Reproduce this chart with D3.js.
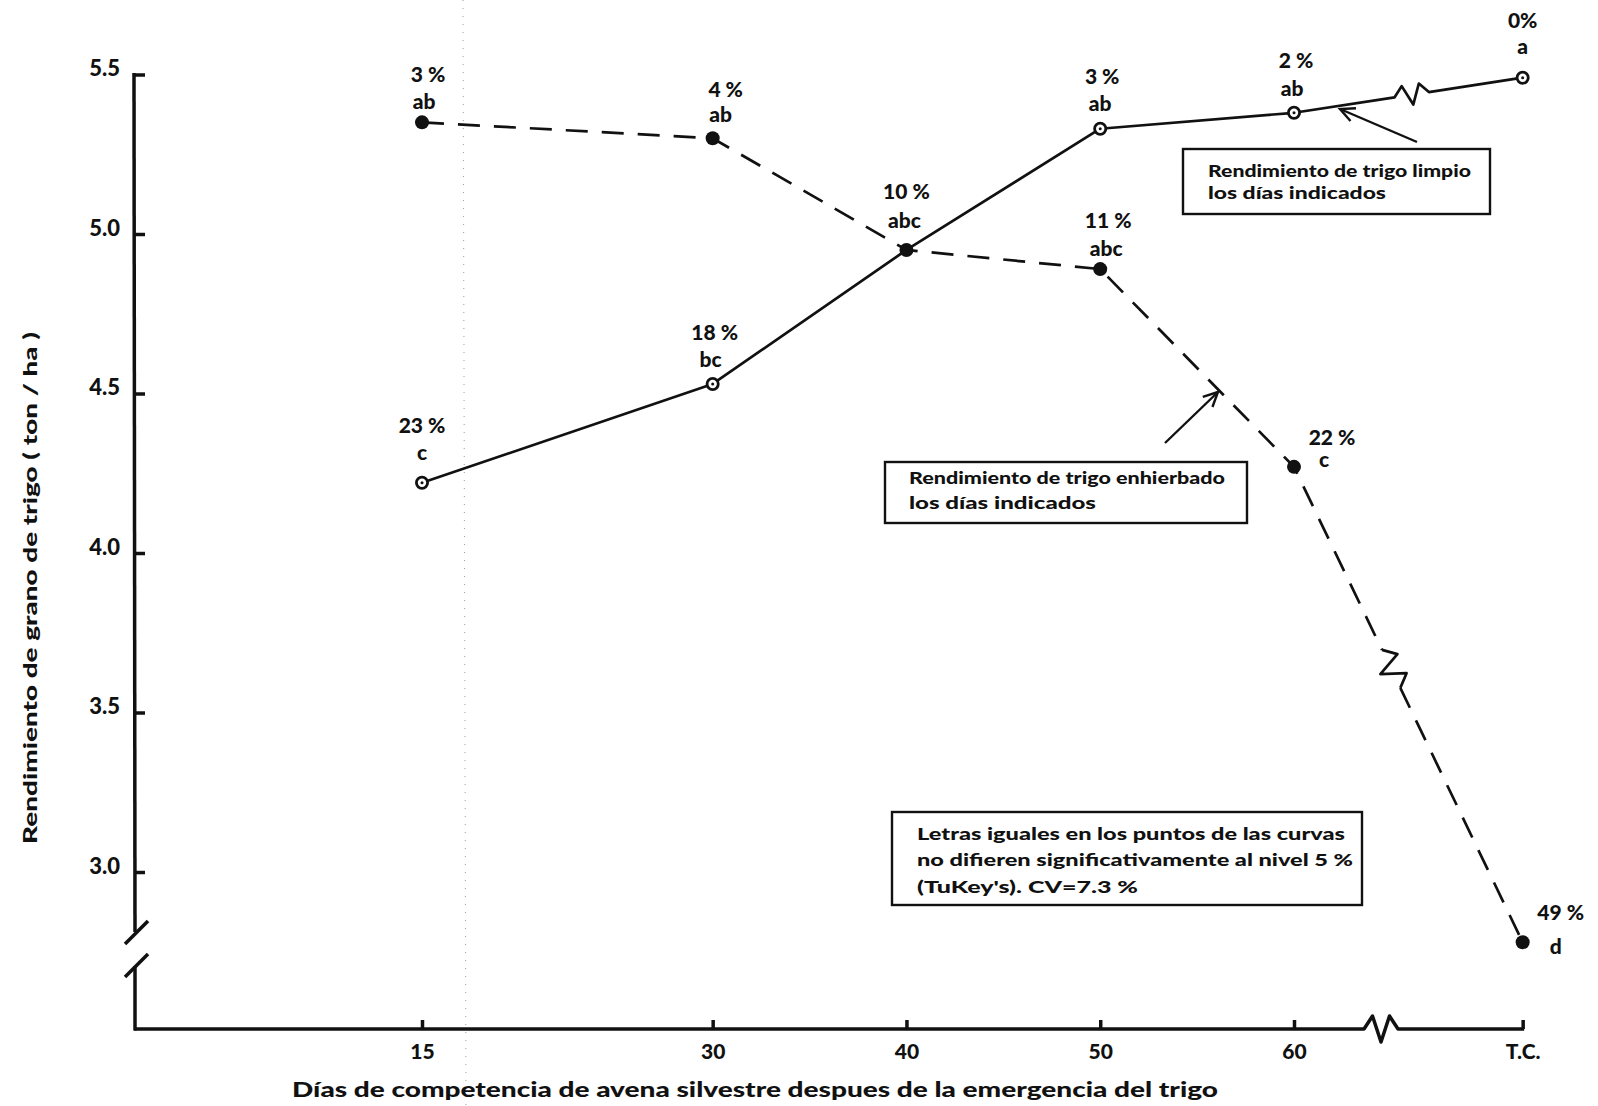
<!DOCTYPE html>
<html>
<head>
<meta charset="utf-8">
<script src="https://cdn.jsdelivr.net/npm/d3@7"></script>
<style>
  html, body { margin: 0; padding: 0; background: #fff; }
  svg { display: block; }
  text { font-family: "Lato", "DejaVu Sans", sans-serif; font-weight: 900; fill: #111; }
</style>
</head>
<body>
<div id="chart"></div>
<script>
// Días de competencia (eje X) y rendimientos de trigo (ton/ha)
const categories = ["15", "30", "40", "50", "60", "T.C."];
const days = [15, 30, 40, 50, 60];
const cleanYield = [4.22, 4.53, 4.95, 5.33, 5.38, 5.49];   // trigo limpio los días indicados
const weedyYield = [5.35, 5.30, 4.95, 4.89, 4.27, 2.78];   // trigo enhierbado los días indicados
const cleanLoss  = ["23 %", "18 %", "10 %", "3 %", "2 %", "0%"];
const cleanGroup = ["c", "bc", "abc", "ab", "ab", "a"];
const weedyLoss  = ["3 %", "4 %", "", "11 %", "22 %", "49 %"];
const weedyGroup = ["ab", "ab", "", "abc", "c", "d"];
const yTicks = [3.0, 3.5, 4.0, 4.5, 5.0, 5.5];

const W = 1598, H = 1106;
const TC_AT = 71.8;          // posición del testigo (T.C.) tras el corte del eje
const axisX = 134, axisY = 1029;

const svg = d3.select("#chart").append("svg")
  .attr("width", W).attr("height", H);

const x = d3.scaleLinear().domain([15, 60]).range([422, 1294]);
const y = d3.scaleLinear().domain([3.0, 5.5]).range([872, 74.5]);
const xAt = i => i < days.length ? x(days[i]) : x(TC_AT);

const ink = "#111";
const line = d3.line();

// pliegue punteado del papel
svg.append("path").attr("d", line([[463, 0], [466, H]]))
  .attr("stroke", "#9a9a9a").attr("stroke-width", 1).attr("stroke-dasharray", "1,7").attr("fill", "none");

// ---------- eje Y ----------
const yAxis = d3.axisLeft(y).tickValues(yTicks).tickSize(-11).tickPadding(14)
  .tickFormat(d3.format(".1f"));
const gy = svg.append("g").attr("transform", `translate(${axisX},0)`).call(yAxis);
gy.select(".domain").remove();
gy.selectAll(".tick line").attr("stroke", ink).attr("stroke-width", 3.5);
gy.selectAll(".tick text").attr("font-size", 22).attr("dy", "0.05em")
  .style("font-family", "Lato").style("font-weight", 900).attr("fill", ink);

// tramo superior del eje Y con el corte
const axisStroke = sel => sel.attr("stroke", ink).attr("stroke-width", 3.5).attr("fill", "none");
svg.append("path").attr("d", line([[axisX, y(5.5) - 1.5], [axisX + 1, 932]])).call(axisStroke);
svg.append("path").attr("d", line([[125, 944], [148, 921]])).call(axisStroke);
svg.append("path").attr("d", line([[125, 977], [148, 954]])).call(axisStroke);
svg.append("path").attr("d", line([[axisX + 1, 966], [axisX + 1, axisY + 1.5]])).call(axisStroke);

// ---------- eje X ----------
const xAxis = d3.axisBottom(x).tickValues(days.concat([TC_AT])).tickSize(-9).tickPadding(15)
  .tickFormat((d, i) => categories[i]);
const gx = svg.append("g").attr("transform", `translate(0,${axisY})`).call(xAxis);
gx.select(".domain").remove();
gx.selectAll(".tick line").attr("stroke", ink).attr("stroke-width", 3.5);
gx.selectAll(".tick text").attr("font-size", 21)
  .style("font-family", "Lato").style("font-weight", 900).attr("fill", ink);

// zigzag helper: inserts a break symbol between fractions t0..t1 of segment a→b
function zigzag(a, b, t0, t1, amp) {
  const dx = b[0] - a[0], dy = b[1] - a[1];
  const len = Math.hypot(dx, dy);
  const nx = dy / len, ny = -dx / len;   // normal pointing "up" for a left→right segment
  const P = t => [a[0] + dx * t, a[1] + dy * t];
  const pts = [P(t0)];
  [1, -1, 1].forEach((o, k) => {
    const p = P(t0 + (t1 - t0) * (k + 1) / 4);
    pts.push([p[0] + nx * amp * o, p[1] + ny * amp * o]);
  });
  pts.push(P(t1));
  return pts;
}

// línea base del eje X con corte
const xa = [axisX, axisY], xb = [x(TC_AT) + 1.5, axisY];
const span = xb[0] - axisX;
const xz = zigzag(xa, xb, (1364 - axisX) / span, (1398 - axisX) / span, 13);
svg.append("path").attr("d", line([xa].concat(xz).concat([xb]))).call(axisStroke)
  .attr("stroke-linejoin", "round");

// ---------- series ----------
const cleanPts = cleanYield.map((v, i) => [xAt(i), y(v)]);
const weedyPts = weedyYield.map((v, i) => [xAt(i), y(v)]);

// trigo limpio: línea continua con corte antes de T.C.
{
  const a = cleanPts[4], b = cleanPts[5];
  const z = zigzag(a, b, 0.44, 0.59, 10);
  svg.append("path").attr("d", line(cleanPts.slice(0, 5).concat(z).concat([b])))
    .attr("stroke", ink).attr("stroke-width", 2.7).attr("fill", "none").attr("stroke-linejoin", "round");
}

// trigo enhierbado: línea discontinua con corte antes de T.C.
{
  const dash = "22,14";
  const a = weedyPts[4], b = weedyPts[5];
  const z = zigzag(a, b, 0.385, 0.465, 12);
  svg.append("path").attr("d", line(weedyPts.slice(0, 5).concat([z[0]])))
    .attr("stroke", ink).attr("stroke-width", 2.7).attr("fill", "none").attr("stroke-dasharray", dash);
  svg.append("path").attr("d", line(z))
    .attr("stroke", ink).attr("stroke-width", 2.7).attr("fill", "none").attr("stroke-linejoin", "round");
  svg.append("path").attr("d", line([z[z.length - 1], b]))
    .attr("stroke", ink).attr("stroke-width", 2.7).attr("fill", "none").attr("stroke-dasharray", dash);
}

// marcadores
svg.append("g").selectAll("circle").data(weedyPts).join("circle")
  .attr("cx", d => d[0]).attr("cy", d => d[1]).attr("r", 7).attr("fill", ink);
const openG = svg.append("g");
cleanPts.forEach((d, i) => {
  if (i === 2) return; // punto compartido (40 días) va relleno
  openG.append("circle").attr("cx", d[0]).attr("cy", d[1]).attr("r", 5.6)
    .attr("fill", "#fff").attr("stroke", ink).attr("stroke-width", 2.8);
  openG.append("circle").attr("cx", d[0]).attr("cy", d[1]).attr("r", 1.5).attr("fill", ink);
});

// etiquetas de pérdida (%) y letras de Tukey
const lab = svg.append("g").attr("font-size", 21).attr("text-anchor", "middle");
function pointLabel(p, pct, grp, dx1, dy1, dx2, dy2) {
  if (pct) lab.append("text").attr("x", p[0] + dx1).attr("y", p[1] + dy1).attr("dy", "0.35em").text(pct);
  if (grp) lab.append("text").attr("x", p[0] + dx2).attr("y", p[1] + dy2).attr("dy", "0.35em").text(grp);
}
// trigo limpio
pointLabel(cleanPts[0], cleanLoss[0], cleanGroup[0], 0, -57, 0, -30);
pointLabel(cleanPts[1], cleanLoss[1], cleanGroup[1], 2, -51, -2, -24);
pointLabel(cleanPts[2], cleanLoss[2], cleanGroup[2], 0, -58, -2, -29);
pointLabel(cleanPts[3], cleanLoss[3], cleanGroup[3], 2, -52, 0, -25);
pointLabel(cleanPts[4], cleanLoss[4], cleanGroup[4], 2, -52, -2, -24);
pointLabel(cleanPts[5], cleanLoss[5], cleanGroup[5], 0, -57, 0, -31);
// trigo enhierbado
pointLabel(weedyPts[0], weedyLoss[0], weedyGroup[0], 6, -48, 2, -21);
pointLabel(weedyPts[1], weedyLoss[1], weedyGroup[1], 13, -49, 8, -24);
pointLabel(weedyPts[3], weedyLoss[3], weedyGroup[3], 8, -48, 6, -20);
pointLabel(weedyPts[4], weedyLoss[4], weedyGroup[4], 38, -29, 30, -7);
pointLabel(weedyPts[5], weedyLoss[5], weedyGroup[5], 38, -30, 33, 4);

// ---------- títulos de ejes ----------
svg.append("text").attr("x", 755).attr("y", 1090).attr("dy", "0.35em")
  .attr("text-anchor", "middle").attr("font-size", 20)
  .attr("textLength", 926).attr("lengthAdjust", "spacingAndGlyphs")
  .text("Días de competencia de avena silvestre despues de la emergencia del trigo");
svg.append("text").attr("transform", "translate(30,588) rotate(-90)").attr("dy", "0.35em")
  .attr("text-anchor", "middle").attr("font-size", 19)
  .attr("textLength", 512).attr("lengthAdjust", "spacingAndGlyphs")
  .text("Rendimiento de grano de trigo ( ton / ha )");

// ---------- recuadros ----------
function box(x0, y0, x1, y1, lines, tx, ty, lh, fs) {
  svg.append("rect").attr("x", x0).attr("y", y0).attr("width", x1 - x0).attr("height", y1 - y0)
    .attr("fill", "none").attr("stroke", ink).attr("stroke-width", 2.4);
  lines.forEach((l, i) => {
    svg.append("text").attr("x", tx).attr("y", ty + i * lh).attr("dy", "0.35em")
      .attr("font-size", fs).attr("textLength", l[1]).attr("lengthAdjust", "spacingAndGlyphs").text(l[0]);
  });
}
box(1183, 149, 1490, 214, [["Rendimiento de trigo limpio", 263], ["los días indicados", 178]], 1208, 171, 22, 16);
box(885, 462, 1247, 523, [["Rendimiento de trigo enhierbado", 316], ["los días indicados", 187]], 909, 478, 25, 16);
box(892, 812, 1362, 905, [["Letras iguales en los puntos de las curvas", 428],
                          ["no difieren significativamente al nivel  5 %", 436],
                          ["(TuKey's).  CV=7.3 %", 221]], 917, 834, 26.5, 16);

// flechas de los recuadros
function arrow(from, to) {
  svg.append("path").attr("d", line([from, to])).attr("stroke", ink).attr("stroke-width", 2.4).attr("fill", "none");
  const ang = Math.atan2(from[1] - to[1], from[0] - to[0]);
  const L = 16, s = 0.45;
  const h1 = [to[0] + L * Math.cos(ang + s), to[1] + L * Math.sin(ang + s)];
  const h2 = [to[0] + L * Math.cos(ang - s), to[1] + L * Math.sin(ang - s)];
  svg.append("path").attr("d", line([h1, to, h2])).attr("stroke", ink).attr("stroke-width", 2.4)
    .attr("fill", "none").attr("stroke-linejoin", "miter");
}
arrow([1417, 142], [1340, 109]);
arrow([1165, 443], [1218, 392]);
</script>
</body>
</html>
